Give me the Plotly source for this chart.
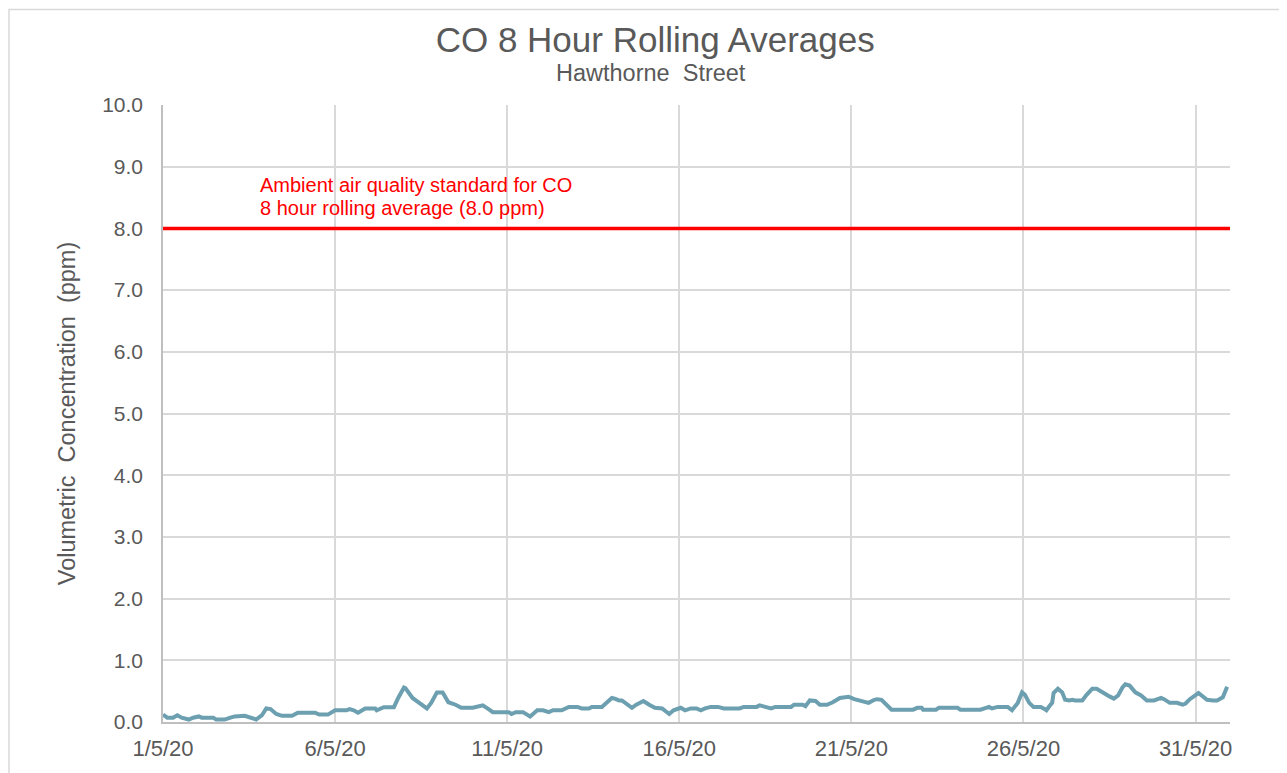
import plotly.graph_objects as go

# CO 8-hour rolling average, Hawthorne Street, May 2020
times = [
    "2020-05-01 00:00", "2020-05-01 03:00", "2020-05-01 07:00", "2020-05-01 10:00",
    "2020-05-01 13:00", "2020-05-01 18:00", "2020-05-01 21:00", "2020-05-02 01:00",
    "2020-05-02 03:00", "2020-05-02 11:00", "2020-05-02 13:00", "2020-05-02 19:00",
    "2020-05-02 23:00", "2020-05-03 02:00", "2020-05-03 09:00", "2020-05-03 13:00",
    "2020-05-03 15:00", "2020-05-03 17:00", "2020-05-03 21:00", "2020-05-04 00:00",
    "2020-05-04 03:00", "2020-05-04 07:00", "2020-05-04 11:00", "2020-05-04 18:00",
    "2020-05-04 22:00", "2020-05-05 10:00", "2020-05-05 13:00", "2020-05-05 19:00",
    "2020-05-06 00:00", "2020-05-06 08:00", "2020-05-06 10:00", "2020-05-06 13:00",
    "2020-05-06 16:00", "2020-05-06 21:00", "2020-05-07 04:00", "2020-05-07 05:00",
    "2020-05-07 10:00", "2020-05-07 17:00", "2020-05-07 20:00", "2020-05-08 00:00",
    "2020-05-08 01:00", "2020-05-08 06:00", "2020-05-08 09:00", "2020-05-08 12:00",
    "2020-05-08 16:00", "2020-05-08 19:00", "2020-05-08 23:00", "2020-05-09 03:00",
    "2020-05-09 07:00", "2020-05-09 12:00", "2020-05-09 16:00", "2020-05-10 00:00",
    "2020-05-10 04:00", "2020-05-10 07:00", "2020-05-10 11:00", "2020-05-10 14:00",
    "2020-05-10 19:00", "2020-05-11 01:00", "2020-05-11 03:00", "2020-05-11 06:00",
    "2020-05-11 11:00", "2020-05-11 16:00", "2020-05-11 21:00", "2020-05-12 01:00",
    "2020-05-12 05:00", "2020-05-12 08:00", "2020-05-12 14:00", "2020-05-12 19:00",
    "2020-05-13 01:00", "2020-05-13 04:00", "2020-05-13 09:00", "2020-05-13 11:00",
    "2020-05-13 18:00", "2020-05-13 22:00", "2020-05-14 01:00", "2020-05-14 03:00",
    "2020-05-14 06:00", "2020-05-14 08:00", "2020-05-14 12:00", "2020-05-14 15:00",
    "2020-05-14 18:00", "2020-05-14 23:00", "2020-05-15 03:00", "2020-05-15 07:00",
    "2020-05-15 12:00", "2020-05-15 17:00", "2020-05-15 20:00", "2020-05-16 01:00",
    "2020-05-16 04:00", "2020-05-16 08:00", "2020-05-16 12:00", "2020-05-16 15:00",
    "2020-05-16 18:00", "2020-05-16 22:00", "2020-05-17 03:00", "2020-05-17 07:00",
    "2020-05-17 18:00", "2020-05-17 21:00", "2020-05-18 06:00", "2020-05-18 08:00",
    "2020-05-18 12:00", "2020-05-18 16:00", "2020-05-18 19:00", "2020-05-19 06:00",
    "2020-05-19 08:00", "2020-05-19 14:00", "2020-05-19 16:00", "2020-05-19 19:00",
    "2020-05-19 23:00", "2020-05-20 02:00", "2020-05-20 07:00", "2020-05-20 11:00",
    "2020-05-20 16:00", "2020-05-20 22:00", "2020-05-21 02:00", "2020-05-21 06:00",
    "2020-05-21 12:00", "2020-05-21 16:00", "2020-05-21 18:00", "2020-05-21 21:00",
    "2020-05-22 01:00", "2020-05-22 04:00", "2020-05-22 19:00", "2020-05-22 22:00",
    "2020-05-23 01:00", "2020-05-23 02:00", "2020-05-23 11:00", "2020-05-23 13:00",
    "2020-05-24 02:00", "2020-05-24 04:00", "2020-05-24 18:00", "2020-05-24 22:00",
    "2020-05-25 00:00", "2020-05-25 02:00", "2020-05-25 06:00", "2020-05-25 13:00",
    "2020-05-25 16:00", "2020-05-25 20:00", "2020-05-25 23:00", "2020-05-26 01:00",
    "2020-05-26 04:00", "2020-05-26 07:00", "2020-05-26 12:00", "2020-05-26 14:00",
    "2020-05-26 16:00", "2020-05-26 18:00", "2020-05-26 20:00", "2020-05-26 21:00",
    "2020-05-27 00:00", "2020-05-27 03:00", "2020-05-27 05:00", "2020-05-27 08:00",
    "2020-05-27 10:00", "2020-05-27 12:00", "2020-05-27 17:00", "2020-05-27 20:00",
    "2020-05-28 00:00", "2020-05-28 03:00", "2020-05-28 07:00", "2020-05-28 12:00",
    "2020-05-28 15:00", "2020-05-28 18:00", "2020-05-28 21:00", "2020-05-28 23:00",
    "2020-05-29 02:00", "2020-05-29 06:00", "2020-05-29 10:00", "2020-05-29 14:00",
    "2020-05-29 19:00", "2020-05-30 00:00", "2020-05-30 02:00", "2020-05-30 06:00",
    "2020-05-30 11:00", "2020-05-30 15:00", "2020-05-30 17:00", "2020-05-30 20:00",
    "2020-05-31 02:00", "2020-05-31 06:00", "2020-05-31 08:00", "2020-05-31 12:00",
    "2020-05-31 15:00", "2020-05-31 19:00", "2020-05-31 22:00",
]
co_ppm = [
    0.12, 0.07, 0.07, 0.11, 0.07, 0.04, 0.07, 0.09,
    0.07, 0.07, 0.04, 0.04, 0.07, 0.09, 0.10, 0.07,
    0.04, 0.04, 0.11, 0.22, 0.21, 0.13, 0.10, 0.10,
    0.15, 0.15, 0.12, 0.12, 0.19, 0.19, 0.21, 0.19,
    0.15, 0.22, 0.22, 0.19, 0.24, 0.24, 0.39, 0.56,
    0.55, 0.39, 0.34, 0.28, 0.22, 0.31, 0.48, 0.48,
    0.32, 0.28, 0.23, 0.23, 0.26, 0.27, 0.21, 0.16,
    0.16, 0.16, 0.13, 0.16, 0.16, 0.09, 0.19, 0.19,
    0.16, 0.19, 0.19, 0.245, 0.245, 0.22, 0.22, 0.245,
    0.245, 0.32, 0.39, 0.38, 0.35, 0.35, 0.29, 0.23,
    0.28, 0.34, 0.28, 0.23, 0.22, 0.13, 0.19, 0.23,
    0.19, 0.22, 0.22, 0.19, 0.22, 0.245, 0.245, 0.22,
    0.22, 0.245, 0.245, 0.27, 0.245, 0.22, 0.245, 0.245,
    0.28, 0.28, 0.255, 0.35, 0.34, 0.28, 0.28, 0.32,
    0.39, 0.41, 0.37, 0.35, 0.31, 0.36, 0.37, 0.36,
    0.28, 0.20, 0.20, 0.23, 0.23, 0.20, 0.20, 0.23,
    0.23, 0.20, 0.20, 0.23, 0.245, 0.22, 0.245, 0.245,
    0.19, 0.31, 0.48, 0.44, 0.31, 0.245, 0.245, 0.22,
    0.19, 0.255, 0.31, 0.47, 0.54, 0.48, 0.36, 0.35,
    0.36, 0.35, 0.35, 0.44, 0.54, 0.54, 0.48, 0.415,
    0.38, 0.43, 0.56, 0.61, 0.59, 0.48, 0.43, 0.35,
    0.35, 0.39, 0.37, 0.31, 0.31, 0.28, 0.30, 0.37,
    0.47, 0.39, 0.36, 0.35, 0.35, 0.40, 0.57,
]

# ambient standard line (8.0 ppm) across the month
std_x = ["2020-05-01 00:00", "2020-06-01 00:00"]
std_y = [8.0, 8.0]

tick_dates = ["2020-05-01", "2020-05-06", "2020-05-11", "2020-05-16",
              "2020-05-21", "2020-05-26", "2020-05-31"]
tick_text = ["1/5/20", "6/5/20", "11/5/20", "16/5/20", "21/5/20", "26/5/20", "31/5/20"]

FONT = "Arial, Liberation Sans, sans-serif"
GREY = "#595959"

fig = go.Figure()
fig.add_trace(go.Scatter(
    x=std_x, y=std_y, mode="lines",
    line=dict(color="#ff0000", width=3.5), hoverinfo="skip",
))
fig.add_trace(go.Scatter(
    x=times, y=co_ppm, mode="lines",
    line=dict(color="#6c9fb0", width=4),
))

fig.add_annotation(
    text="Ambient air quality standard for CO", xref="paper", yref="y",
    x=0.089, y=8.70, xanchor="left", yanchor="middle", showarrow=False,
    font=dict(family=FONT, size=20, color="#ff0000"),
)
fig.add_annotation(
    text="8 hour rolling average (8.0 ppm)", xref="paper", yref="y",
    x=0.089, y=8.33, xanchor="left", yanchor="middle", showarrow=False,
    font=dict(family=FONT, size=20, color="#ff0000"),
)
fig.add_annotation(
    text="Hawthorne\u00a0 Street", xref="paper", yref="paper",
    x=0.457, y=1.052, xanchor="center", yanchor="middle", showarrow=False,
    font=dict(family=FONT, size=23.5, color=GREY),
)
# outer chart border
fig.add_shape(
    type="rect", xref="paper", yref="paper",
    x0=-154 / 1067, x1=1117 / 1067, y0=-60 / 620, y1=716 / 620,
    line=dict(color="#d9d9d9", width=1.5), layer="below",
)

# page body has an 8px margin, so the figure is drawn 8px in from the corner
fig.update_layout(
    width=1279, height=765,
    margin=dict(l=155, r=57, t=97, b=48),
    paper_bgcolor="white", plot_bgcolor="white",
    showlegend=False,
    font=dict(family=FONT, color=GREY),
    title=dict(
        text="CO 8 Hour Rolling Averages", x=0.506, xanchor="center",
        y=1 - 32 / 765, yanchor="middle",
        font=dict(family=FONT, size=35, color=GREY),
    ),
    xaxis=dict(
        type="date", range=["2020-05-01", "2020-06-01"],
        tickvals=tick_dates, ticktext=tick_text,
        tickfont=dict(size=22, color=GREY), ticks="", ticklabelstandoff=6,
        showgrid=True, gridcolor="#d9d9d9", gridwidth=1.5,
        showline=True, linecolor="#bfbfbf", linewidth=1.5, zeroline=False,
    ),
    yaxis=dict(
        range=[0, 10], dtick=1, tickformat=".1f",
        tickfont=dict(size=21, color=GREY), ticks="", ticklabelstandoff=14,
        showgrid=True, gridcolor="#d9d9d9", gridwidth=1.5,
        showline=True, linecolor="#bfbfbf", linewidth=1.5, zeroline=False,
        title=dict(text="Volumetric\u00a0 Concentration\u00a0 (ppm)",
                   font=dict(size=23.5, color=GREY), standoff=20),
    ),
)

fig.write_html("out.html")
